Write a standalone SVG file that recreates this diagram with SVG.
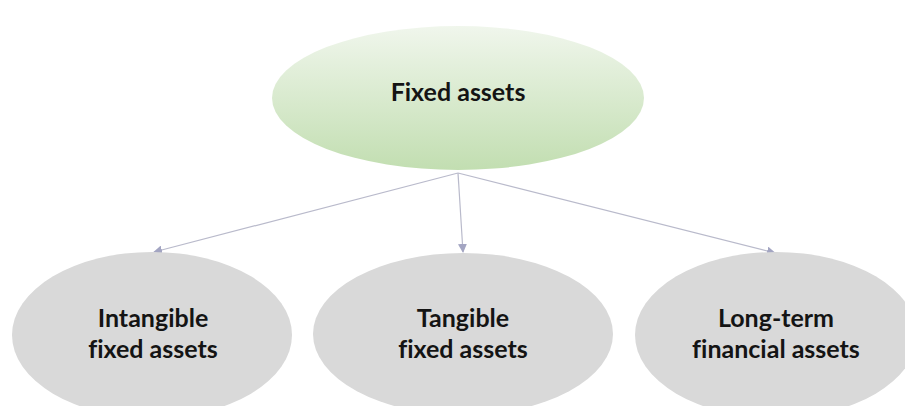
<svg xmlns="http://www.w3.org/2000/svg" width="905" height="406" viewBox="0 0 905 406">
  <defs>
    <linearGradient id="greenFill" x1="0" y1="0" x2="0" y2="1">
      <stop offset="0" stop-color="#f0f6ec"/>
      <stop offset="1" stop-color="#c2deb1"/>
    </linearGradient>
    <marker id="arrow" viewBox="0 0 10 10" refX="9" refY="5" markerWidth="9" markerHeight="9" markerUnits="userSpaceOnUse" orient="auto">
      <path d="M0,0 L10,5 L0,10 z" fill="#a3a5c2"/>
    </marker>
  </defs>
  <style>
    .label { font-family: Lato, "Open Sans", "Liberation Sans", sans-serif; font-weight: 700; font-size: 25px; fill: #141414; text-anchor: middle; font-variant-ligatures: none; }
    .leaf { fill: #d9d9d9; }
    .link { stroke: #b9bacb; stroke-width: 1.2; fill: none; marker-end: url(#arrow); }
  </style>
  <rect width="905" height="406" fill="#ffffff"/>

  <g id="connectors">
    <line class="link" x1="458" y1="173" x2="154" y2="252"/>
    <line class="link" x1="458" y1="173" x2="463" y2="252"/>
    <line class="link" x1="458" y1="173" x2="775" y2="253"/>
  </g>

  <g id="fixed-assets">
    <ellipse cx="458" cy="98" rx="186" ry="72" fill="url(#greenFill)"/>
    <text class="label" x="458" y="101">Fixed assets</text>
  </g>

  <g id="intangible-fixed-assets">
    <ellipse class="leaf" cx="152" cy="335" rx="140" ry="83"/>
    <text class="label" x="153" y="327">Intangible</text>
    <text class="label" x="153" y="358">fixed assets</text>
  </g>

  <g id="tangible-fixed-assets">
    <ellipse class="leaf" cx="463" cy="334" rx="150" ry="81"/>
    <text class="label" x="463" y="327">Tangible</text>
    <text class="label" x="463" y="358">fixed assets</text>
  </g>

  <g id="long-term-financial-assets">
    <ellipse class="leaf" cx="776" cy="335" rx="141" ry="83"/>
    <text class="label" x="776" y="327">Long-term</text>
    <text class="label" x="776" y="358">financial assets</text>
  </g>
</svg>
